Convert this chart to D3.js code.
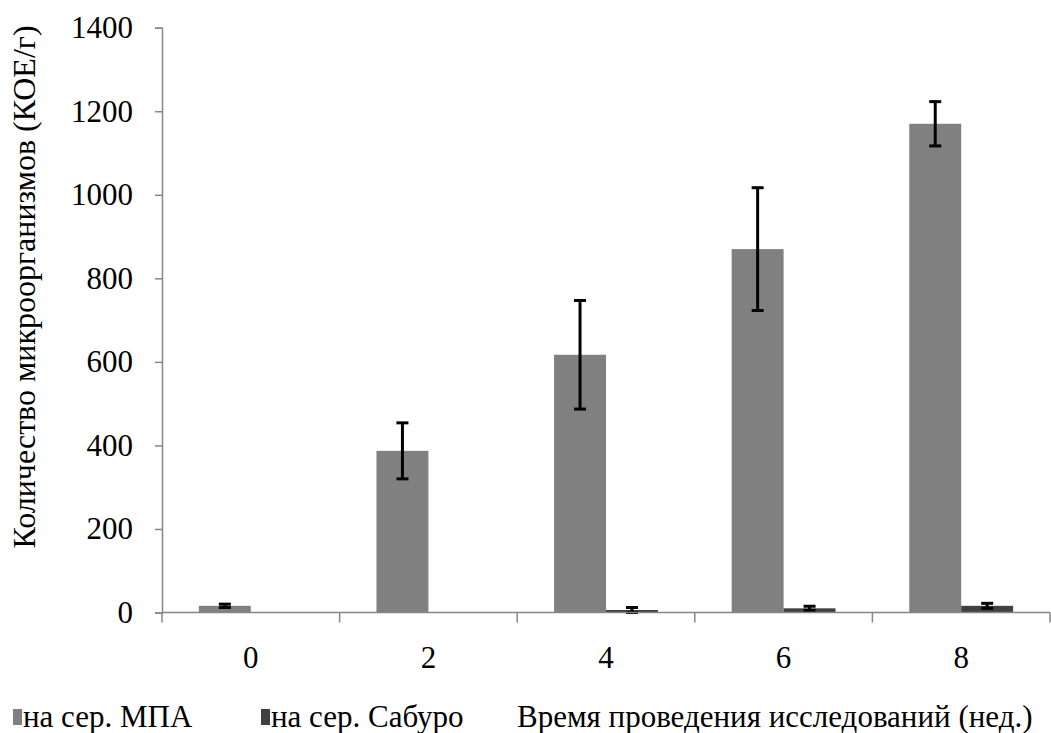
<!DOCTYPE html>
<html>
<head>
<meta charset="utf-8">
<script src="https://cdn.jsdelivr.net/npm/d3@7"></script>
<style>
  html, body { margin: 0; padding: 0; background: #fff; }
  svg { display: block; }
  svg text { font-family: "Liberation Serif", "DejaVu Serif", serif; }
</style>
</head>
<body>
<svg id="chart" width="1051" height="733"></svg>
<script>
// Weeks of study
const weeks = ["0", "2", "4", "6", "8"];
// Colony counts, CFU/g
const seriesNames = ["на сер. МПА", "на сер. Сабуро"];
const mpaValues = [16, 387, 617, 870, 1170];
const mpaErrors = [4, 67, 130, 147, 53];
const saburoValues = [0, 0, 6, 10, 16];
const saburoErrors = [0, 0, 6, 5, 6];
const yTicks = [0, 200, 400, 600, 800, 1000, 1200, 1400];
const yTitle = "Количество микроорганизмов (КОЕ/г)";
const xTitle = "Время проведения исследований (нед.)";

const colors = { "на сер. МПА": "#808080", "на сер. Сабуро": "#404040" };
const axisColor = "#868686";
const serif = "Liberation Serif";

const svg = d3.select("#chart");
const plotLeft = 162, plotRight = 1050, plotTop = 27.7, plotBottom = 612.5;

const x0 = d3.scaleBand().domain(weeks).range([plotLeft, plotRight]).padding(0);
const x1 = d3.scaleBand().domain(seriesNames).range([0, x0.bandwidth()])
  .paddingInner(0).paddingOuter(0.71);
const y = d3.scaleLinear().domain([0, 1400]).range([plotBottom, plotTop]);

const rows = weeks.map((w, i) => ({
  week: w,
  bars: [
    { name: seriesNames[0], value: mpaValues[i], err: mpaErrors[i] },
    { name: seriesNames[1], value: saburoValues[i], err: saburoErrors[i] }
  ]
}));

// Bars
const groups = svg.append("g").selectAll("g").data(rows).join("g")
  .attr("transform", d => `translate(${x0(d.week)},0)`);

groups.selectAll("rect").data(d => d.bars).join("rect")
  .attr("x", d => x1(d.name))
  .attr("width", x1.bandwidth())
  .attr("y", d => y(d.value))
  .attr("height", d => y(0) - y(d.value))
  .attr("fill", d => colors[d.name]);

// Error bars
const eb = groups.selectAll("g.err").data(d => d.bars.filter(b => b.err > 0)).join("g")
  .attr("class", "err")
  .attr("stroke", "#000")
  .attr("stroke-width", 3);
const cx = d => x1(d.name) + x1.bandwidth() / 2;
eb.append("line")
  .attr("x1", cx).attr("x2", cx)
  .attr("y1", d => y(d.value + d.err)).attr("y2", d => y(d.value - d.err));
eb.append("line")
  .attr("x1", d => cx(d) - 6).attr("x2", d => cx(d) + 6)
  .attr("y1", d => y(d.value + d.err)).attr("y2", d => y(d.value + d.err));
eb.append("line")
  .attr("x1", d => cx(d) - 6).attr("x2", d => cx(d) + 6)
  .attr("y1", d => y(d.value - d.err)).attr("y2", d => y(d.value - d.err));

// Y axis
const yAxis = svg.append("g")
  .attr("transform", `translate(${plotLeft},0)`)
  .call(d3.axisLeft(y).tickValues(yTicks).tickSize(7).tickPadding(22).tickFormat(d3.format("d")))
  .attr("font-family", serif);
yAxis.select(".domain").attr("stroke", axisColor).attr("stroke-width", 1.5);
yAxis.selectAll(".tick line").attr("stroke", axisColor).attr("stroke-width", 1.5);
yAxis.selectAll(".tick text")
  .attr("font-family", serif)
  .attr("font-size", 31).attr("fill", "#000");

// X axis: ticks at category boundaries
svg.append("line")
  .attr("x1", plotLeft).attr("x2", plotRight)
  .attr("y1", y(0)).attr("y2", y(0))
  .attr("stroke", axisColor).attr("stroke-width", 1.5);
const boundaries = weeks.map(w => x0(w)).concat([x0(weeks[weeks.length - 1]) + x0.bandwidth()]);
svg.append("g").selectAll("line").data(boundaries).join("line")
  .attr("x1", d => d).attr("x2", d => d)
  .attr("y1", y(0)).attr("y2", y(0) + 10)
  .attr("stroke", axisColor).attr("stroke-width", 1.5);
svg.append("g").selectAll("text").data(weeks).join("text")
  .attr("x", d => x0(d) + x0.bandwidth() / 2)
  .attr("y", 668)
  .attr("text-anchor", "middle")
  .attr("font-family", serif)
  .attr("font-size", 31)
  .text(d => d);

// Y title
svg.append("text")
  .attr("transform", "translate(35,287) rotate(-90)")
  .attr("text-anchor", "middle")
  .attr("font-family", serif)
  .attr("font-size", 32)
  .text(yTitle);

// Legend
const legendY = 727;
const legendItems = [
  { label: seriesNames[0], color: colors[seriesNames[0]], mx: 13, tx: 23 },
  { label: seriesNames[1], color: colors[seriesNames[1]], mx: 261, tx: 271 },
  { label: xTitle, color: null, mx: 0, tx: 517 }
];
const lg = svg.append("g");
lg.selectAll("rect").data(legendItems.filter(d => d.color)).join("rect")
  .attr("x", d => d.mx).attr("y", legendY - 18)
  .attr("width", 9).attr("height", 16)
  .attr("fill", d => d.color);
lg.selectAll("text").data(legendItems).join("text")
  .attr("x", d => d.tx).attr("y", legendY)
  .attr("font-family", serif)
  .attr("font-size", 31)
  .text(d => d.label);
</script>
</body>
</html>
